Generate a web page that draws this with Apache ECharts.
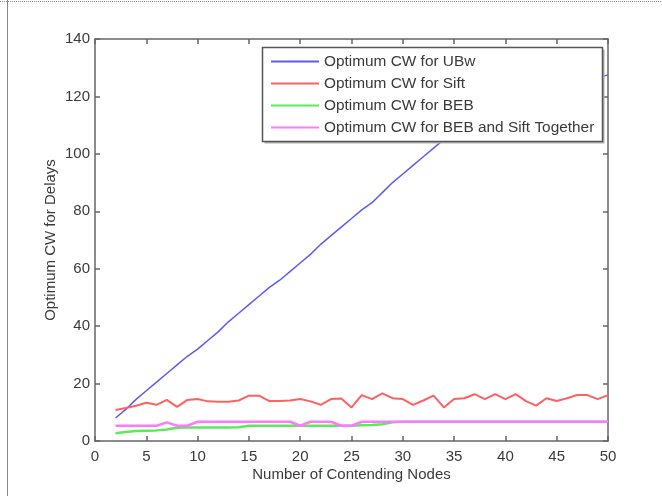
<!DOCTYPE html>
<html>
<head>
<meta charset="utf-8">
<script src="https://cdn.jsdelivr.net/npm/echarts@6/dist/echarts.min.js"></script>
<style>
html, body { margin: 0; padding: 0; background: #fff; }
#chart { width: 662px; height: 496px; }
</style>
</head>
<body>
<div id="chart"></div>
<script>
// number of contending nodes (x)
var nodes = [2, 3, 4, 5, 6, 7, 8, 9, 10, 11, 12, 13, 14, 15, 16, 17, 18, 19, 20, 21, 22, 23, 24, 25, 26,
    27, 28, 29, 30, 31, 32, 33, 34, 35, 36, 37, 38, 39, 40, 41, 42, 43, 44, 45, 46, 47, 48, 49, 50];

var cwUBw = [8, 11, 14.5, 17.5, 20.5, 23.5, 26.5, 29.5, 32, 35, 38, 41.5, 44.5, 47.5, 50.5, 53.5, 56, 59, 62, 65,
    68.5, 71.5, 74.5, 77.5, 80.5, 83, 86.5, 90, 93, 96, 99, 102, 105, 107.5, 109.5, 111, 112.5, 114, 115.5, 117,
    118.5, 120, 121, 122.5, 123.5, 124.5, 125.5, 126.5, 127.5];

var cwSift = [10.8, 11.5, 12.3, 13.3, 12.6, 14.3, 11.9, 14.3, 14.6, 13.8, 13.7, 13.7, 14.1, 15.8, 15.8, 13.9, 13.9,
    14.1, 14.6, 13.8, 12.6, 14.6, 14.8, 11.7, 16, 14.6, 16.6, 14.9, 14.6, 12.6, 14.1, 15.8, 11.7, 14.6, 14.9, 16.3,
    14.6, 16.3, 14.6, 16.3, 13.9, 12.3, 14.9, 13.9, 14.9, 16, 16, 14.6, 16];

var cwBEB = [2.7, 3.1, 3.5, 3.6, 3.7, 4.0, 4.6, 4.7, 4.7, 4.7, 4.7, 4.7, 4.8, 5.3, 5.3, 5.3, 5.3, 5.3, 5.3, 5.3,
    5.3, 5.3, 5.3, 5.3, 5.5, 5.6, 5.8, 6.5, 6.7, 6.7, 6.7, 6.7, 6.7, 6.7, 6.7, 6.7, 6.7, 6.7, 6.7, 6.7, 6.7, 6.7,
    6.7, 6.7, 6.7, 6.7, 6.7, 6.7, 6.7];

var cwBoth = [5.3, 5.3, 5.3, 5.3, 5.3, 6.5, 5.3, 5.3, 6.7, 6.7, 6.7, 6.7, 6.7, 6.7, 6.7, 6.7, 6.7, 6.7, 5.3, 6.7,
    6.7, 6.7, 5.3, 5.3, 6.7, 6.7, 6.7, 6.7, 6.7, 6.7, 6.7, 6.7, 6.7, 6.7, 6.7, 6.7, 6.7, 6.7, 6.7, 6.7, 6.7, 6.7,
    6.7, 6.7, 6.7, 6.7, 6.7, 6.7, 6.7];

var seriesNames = ['Optimum CW for UBw', 'Optimum CW for Sift', 'Optimum CW for BEB', 'Optimum CW for BEB and Sift Together'];
var seriesColors = ['#5c5cf0', '#ff6060', '#5fe85f', '#ff78ff'];
var seriesWidths = [1.5, 2, 2.5, 2.5];
var seriesValues = [cwUBw, cwSift, cwBEB, cwBoth];

var xTicks = { min: 0, max: 50, interval: 5 };
var yTicks = { min: 0, max: 140, interval: 20 };

var font = 'Liberation Sans, Arial, Helvetica, sans-serif';
var axisColor = '#666';
var textColor = '#3a3a3a';

function pairs(vals) {
    return nodes.map(function (n, i) { return [n, vals[i]]; });
}

function makeAxis(pos, range, labels, margin, extra) {
    var a = {
        type: 'value',
        position: pos,
        min: range.min,
        max: range.max,
        interval: range.interval,
        axisLine: { show: true, onZero: false, lineStyle: { color: axisColor, width: 1.5 } },
        axisTick: { show: true, inside: true, length: 5, lineStyle: { color: axisColor, width: 1.5 } },
        axisLabel: { show: labels, margin: margin, color: textColor, fontSize: 15, fontFamily: font },
        splitLine: { show: false }
    };
    for (var k in extra) a[k] = extra[k];
    return a;
}

var myChart = echarts.init(document.getElementById('chart'));

var option = {
    animation: false,
    backgroundColor: '#fff',
    grid: { left: 95, right: 54, top: 39, bottom: 55 },
    xAxis: [
        makeAxis('bottom', xTicks, true, 8, {
            name: 'Number of Contending Nodes',
            nameLocation: 'middle',
            nameGap: 26,
            nameMoveOverlap: false,
            nameTextStyle: { color: textColor, fontSize: 15, fontFamily: font }
        }),
        makeAxis('top', xTicks, false, 8, {})
    ],
    yAxis: [
        makeAxis('left', yTicks, true, 5, {
            name: 'Optimum CW for Delays',
            nameLocation: 'middle',
            nameGap: 37,
            nameMoveOverlap: false,
            nameTextStyle: { color: textColor, fontSize: 15, fontFamily: font }
        }),
        makeAxis('right', yTicks, false, 5, {})
    ],
    legend: {
        z: 10,
        orient: 'vertical',
        left: 271,
        top: 53,
        padding: 0,
        itemWidth: 48,
        itemHeight: 2,
        itemGap: 5,
        icon: 'rect',
        textStyle: { color: textColor, fontSize: 15.4, fontFamily: font, lineHeight: 17 },
        data: seriesNames
    },
    // legend frame with a little drop shadow, like the matlab box
    graphic: [
        { type: 'rect', z: 5, shape: { x: 264.5, y: 49.5, width: 340, height: 94 }, style: { fill: '#b0b0b0' } },
        { type: 'rect', z: 6, shape: { x: 262.5, y: 47.5, width: 340, height: 94 }, style: { fill: '#fff', stroke: '#555', lineWidth: 1.5 } },
        // outer figure frame
        { type: 'line', z: 6, shape: { x1: 7.5, y1: 0, x2: 7.5, y2: 496 }, style: { stroke: '#888', lineWidth: 1 } },
        { type: 'line', z: 6, shape: { x1: 0, y1: 1.5, x2: 662, y2: 1.5 }, style: { stroke: '#888', lineWidth: 1, lineDash: [1, 1] } }
    ],
    series: seriesNames.map(function (name, i) {
        return {
            name: name,
            type: 'line',
            data: pairs(seriesValues[i]),
            symbol: 'none',
            showSymbol: false,
            color: seriesColors[i],
            lineStyle: { color: seriesColors[i], width: seriesWidths[i] }
        };
    })
};

myChart.setOption(option);

window.addEventListener('resize', function () {
    myChart.resize();
});
</script>
</body>
</html>
